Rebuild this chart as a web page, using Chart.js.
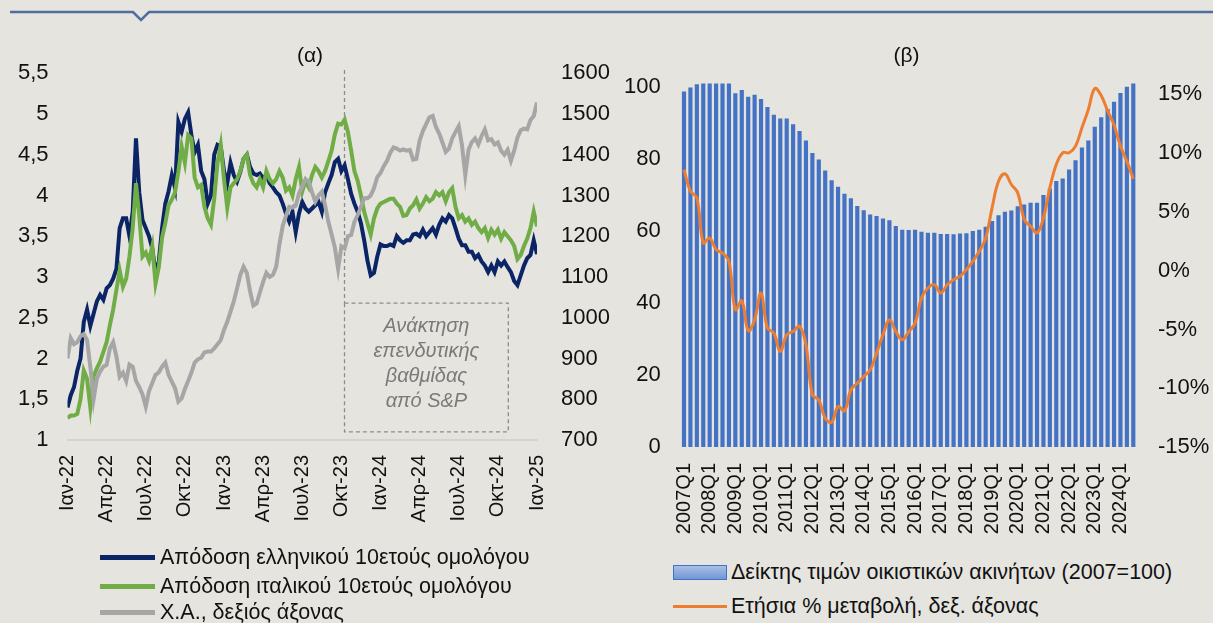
<!DOCTYPE html>
<html>
<head>
<meta charset="utf-8">
<script src="https://cdn.jsdelivr.net/npm/chart.js@4.4.1/dist/chart.umd.min.js"></script>
<style>
  body { margin: 0; background: #e5e4df; width: 1213px; height: 623px; overflow: hidden; position: relative;
         font-family: "Liberation Sans", Arial, sans-serif; }
  canvas { position: absolute; top: 0; }
  #yields { left: 0; }
  #housing { left: 600px; }
  .ornament { position: absolute; left: 0; top: 0; }
  .legend-row { position: absolute; height: 26px; display: flex; align-items: center; white-space: nowrap;
                font-size: 21.5px; color: #111; }
  .line-swatch { width: 55px; height: 5px; margin-right: 5px; }
  .bar-swatch { width: 52px; height: 13px; margin-right: 4px; border: 1px solid #4472c4;
                background: linear-gradient(to bottom, #a9bfe6, #7296d6); }
  .thin-swatch { width: 54px; height: 3px; margin-right: 4px; background: #ed7d31; }
</style>
</head>
<body>
<svg class="ornament" width="1213" height="30">
  <polyline points="10,12 133,12 141,20 149,12 1213,12" fill="none" stroke="#4e6f9e" stroke-width="2.5"/>
</svg>

<canvas id="yields" width="620" height="545"></canvas>
<canvas id="housing" width="613" height="545"></canvas>

<div class="legend-row" style="left:100px; top:544px;"><span class="line-swatch" style="background:#0a2465"></span>Απόδοση ελληνικού 10ετούς ομολόγου</div>
<div class="legend-row" style="left:100px; top:573px;"><span class="line-swatch" style="background:#70ad47"></span>Απόδοση ιταλικού 10ετούς ομολόγου</div>
<div class="legend-row" style="left:100px; top:599px;"><span class="line-swatch" style="background:#a6a6a6"></span>Χ.Α., δεξιός άξονας</div>

<div class="legend-row" style="left:673px; top:559px;"><span class="bar-swatch"></span>Δείκτης τιμών οικιστικών ακινήτων (2007=100)</div>
<div class="legend-row" style="left:673px; top:593px;"><span class="thin-swatch"></span>Ετήσια % μεταβολή, δεξ. άξονας</div>

<script>
// (α) bond yields and stock index, one reading every quarter of a month from Jan 2022
const monthTicks = ["Ιαν-22", "Απρ-22", "Ιουλ-22", "Οκτ-22", "Ιαν-23", "Απρ-23", "Ιουλ-23",
                    "Οκτ-23", "Ιαν-24", "Απρ-24", "Ιουλ-24", "Οκτ-24", "Ιαν-25"];
const readingStep = 0.25; // months

const greekYield = [
  1.40, 1.55, 1.65, 1.85, 2.00, 2.45, 2.60, 2.40, 2.55, 2.70,
  2.78, 2.72, 2.86, 2.90, 2.98, 3.10, 3.60, 3.72, 3.72, 3.50,
  3.80, 4.70, 4.04, 3.70, 3.60, 3.50, 3.35, 3.05, 3.19, 3.60,
  3.90, 4.05, 4.25, 4.09, 4.90, 4.78, 4.94, 5.02, 4.74, 4.53,
  4.62, 4.30, 4.20, 3.90, 4.00, 4.50, 4.62, 4.60, 4.30, 4.15,
  4.40, 4.25, 4.17, 4.29, 4.45, 4.50, 4.35, 4.27, 4.25, 4.27,
  4.21, 4.25, 4.15, 4.10, 4.04, 4.00, 3.90, 3.78, 3.68, 3.80,
  3.55, 3.78, 3.92, 3.84, 3.80, 3.84, 3.88, 3.92, 3.80, 4.04,
  4.15, 4.25, 4.41, 4.45, 4.30, 4.37, 4.20, 4.02, 3.90, 3.80,
  3.66, 3.45, 3.20, 3.02, 3.05, 3.25, 3.40, 3.38, 3.38, 3.40,
  3.38, 3.50, 3.45, 3.42, 3.45, 3.45, 3.52, 3.53, 3.50, 3.58,
  3.50, 3.55, 3.60, 3.52, 3.64, 3.72, 3.68, 3.76, 3.72, 3.60,
  3.47, 3.39, 3.39, 3.31, 3.31, 3.23, 3.27, 3.19, 3.14, 3.06,
  3.14, 3.06, 3.19, 3.14, 3.19, 3.12, 3.06, 2.95, 2.90, 3.02,
  3.14, 3.23, 3.27, 3.45, 3.28
];

const italianYield = [
  1.27, 1.30, 1.30, 1.32, 1.50, 1.85, 1.75, 1.40, 1.78, 1.88,
  1.96, 2.08, 2.20, 2.41, 2.60, 2.84, 3.08, 2.88, 2.98, 3.25,
  3.60, 4.15, 3.75, 3.25, 3.30, 3.20, 3.38, 2.92, 3.12, 3.48,
  3.66, 3.88, 3.95, 4.04, 4.29, 4.60, 4.40, 4.74, 4.70, 4.22,
  4.10, 4.13, 3.86, 3.72, 3.64, 3.96, 4.40, 4.62, 4.20, 3.85,
  4.10, 4.15, 4.20, 4.30, 4.45, 4.50, 4.25, 4.15, 4.10, 4.20,
  4.10, 4.30, 4.20, 4.15, 4.20, 4.30, 4.22, 4.06, 4.10, 4.00,
  4.20, 4.35, 4.05, 4.18, 4.10, 4.25, 4.35, 4.30, 4.22, 4.30,
  4.42, 4.55, 4.75, 4.88, 4.87, 4.93, 4.78, 4.55, 4.30, 4.18,
  4.00, 3.80, 3.66, 3.52, 3.72, 3.84, 3.90, 3.92, 3.94, 3.96,
  3.96, 3.90, 3.86, 3.75, 3.76, 3.84, 3.88, 3.95, 3.84, 3.90,
  3.98, 3.93, 3.96, 4.04, 4.00, 4.04, 3.93, 4.04, 4.09, 3.86,
  3.72, 3.76, 3.68, 3.72, 3.64, 3.68, 3.60, 3.55, 3.60, 3.48,
  3.58, 3.52, 3.58, 3.47, 3.55, 3.50, 3.45, 3.38, 3.22, 3.27,
  3.38, 3.47, 3.60, 3.80, 3.62
];

const athexIndex = [
  900, 950, 935, 940, 955, 960, 945, 880, 800, 850,
  868, 880, 884, 925, 940, 905, 855, 865, 845, 885,
  880, 845, 830, 812, 782, 820, 840, 860, 866, 880,
  890, 860, 843, 827, 794, 802, 825, 845, 865, 890,
  898, 902, 915, 917, 917, 925, 935, 945, 970, 990,
  1015, 1040, 1072, 1105, 1125, 1110, 1065, 1030, 1035, 1062,
  1088, 1110, 1100, 1105, 1125, 1180, 1225, 1250, 1272, 1270,
  1275, 1305, 1322, 1340, 1335, 1308, 1285, 1300, 1309, 1276,
  1236, 1205, 1172, 1120, 1175, 1170, 1200, 1203, 1235, 1252,
  1272, 1293, 1293, 1300, 1318, 1345, 1355, 1372, 1385, 1405,
  1418, 1415, 1410, 1413, 1410, 1412, 1388, 1390, 1435, 1458,
  1475, 1492, 1495, 1468, 1452, 1430, 1407, 1415, 1440, 1456,
  1470, 1423, 1350, 1412, 1431, 1440, 1425, 1446, 1462, 1435,
  1438, 1425, 1430, 1410, 1400, 1412, 1385, 1410, 1442, 1460,
  1464, 1462, 1485, 1495, 1528
];

// S&P upgrade marker (months since Jan 2022)
const upgradeMonth = 21.24;
const boxEndMonth = 33.8;
const boxLines = ["Ανάκτηση", "επενδυτικής", "βαθμίδας", "από S&P"];

// (β) house prices, quarterly from 2007Q1
const quarterLabels = [];
for (let yr = 2007; yr <= 2024; yr++) {
  for (let q = 1; q <= 4; q++) quarterLabels.push(yr + "Q" + q);
}
const housePriceIndex = [
  98.8, 99.9, 100.8, 101.0, 101.0, 101.0, 101.0, 101.0,
  98.3, 99.2, 97.3, 97.9, 96.7, 94.5, 92.3, 91.3,
  91.3, 89.7, 87.8, 85.2, 81.7, 79.9, 76.8, 74.1,
  72.3, 70.4, 69.1, 67.0, 65.8, 64.6, 64.2, 63.5,
  63.0, 61.4, 60.4, 60.3, 60.4, 59.8, 59.5, 59.5,
  59.2, 59.2, 59.1, 59.3, 59.4, 60.0, 60.4, 61.2,
  62.8, 64.4, 65.4, 65.7, 66.9, 67.4, 67.9, 67.9,
  70.0, 71.8, 73.9, 74.6, 77.1, 79.7, 83.2, 85.2,
  89.0, 91.6, 93.9, 95.9, 98.4, 100.1, 101.0
];
const annualChange = [
  8.6, 6.76, 6.2, 2.36, 2.78, 1.79, 1.5, 0.8,
  -3.32, -2.56, -5.11, -4.18, -1.9, -4.89, -5.3, -6.88,
  -5.45, -5.17, -4.74, -6.3, -10.57, -11.0, -12.56, -12.9,
  -11.56, -11.93, -10.14, -9.57, -9.0, -8.44, -7.02, -5.45,
  -4.18, -5.17, -5.88, -5.2, -4.46, -2.33, -1.48, -1.19,
  -1.9, -1.19, -0.77, -0.48, 0.09, 0.8, 1.65, 2.78,
  5.34, 7.61, 8.24, 7.33, 6.62, 4.35, 3.78, 3.21,
  4.49, 7.05, 9.03, 10.03, 10.03, 10.6, 12.16, 13.72,
  15.5, 14.9, 13.6, 12.4, 10.6, 9.3, 7.8
];
const quarters = quarterLabels.slice(0, housePriceIndex.length);

Chart.defaults.font.family = "'Liberation Sans', Arial, sans-serif";
Chart.defaults.font.size = 22;
Chart.defaults.color = "#111";

function toPoints(values) {
  return values.map((v, i) => ({ x: i * readingStep, y: v }));
}

const upgradeMarker = {
  id: "upgradeMarker",
  beforeDatasetsDraw(chart) {
    const { ctx, scales } = chart;
    const x0 = scales.x.getPixelForValue(upgradeMonth);
    const x1 = scales.x.getPixelForValue(boxEndMonth);
    const lineTop = scales.y.getPixelForValue(5.54);
    const boxTop = scales.y.getPixelForValue(2.68);
    const boxBottom = scales.y.getPixelForValue(1.1);
    ctx.save();
    ctx.strokeStyle = "#8c8c8c";
    ctx.lineWidth = 1.3;
    ctx.setLineDash([4, 3]);
    ctx.beginPath();
    ctx.moveTo(x0, lineTop);
    ctx.lineTo(x0, boxTop);
    ctx.stroke();
    ctx.strokeRect(x0, boxTop, x1 - x0, boxBottom - boxTop);
    ctx.setLineDash([]);
    ctx.fillStyle = "#7a7a7a";
    ctx.font = "italic 20px 'Liberation Sans', Arial, sans-serif";
    ctx.textAlign = "center";
    ctx.textBaseline = "middle";
    boxLines.forEach((t, i) => ctx.fillText(t, (x0 + x1) / 2, boxTop + 23 + i * 25));
    ctx.restore();
  }
};

const noGrid = { display: false, drawTicks: false };

new Chart(document.getElementById("yields"), {
  type: "line",
  data: {
    datasets: [
      { label: "Απόδοση ελληνικού 10ετούς ομολόγου", data: toPoints(greekYield),
        borderColor: "#0a2465", borderWidth: 4, pointRadius: 0, yAxisID: "y", order: 2 },
      { label: "Απόδοση ιταλικού 10ετούς ομολόγου", data: toPoints(italianYield),
        borderColor: "#70ad47", borderWidth: 4, pointRadius: 0, yAxisID: "y", order: 1 },
      { label: "Χ.Α., δεξιός άξονας", data: toPoints(athexIndex),
        borderColor: "#a6a6a6", borderWidth: 4, pointRadius: 0, yAxisID: "y1", order: 0 }
    ]
  },
  options: {
    responsive: false,
    animation: false,
    layout: { padding: 0 },
    plugins: {
      legend: { display: false },
      tooltip: { enabled: false },
      title: { display: true, text: "(α)", color: "#111", font: { size: 21, weight: "normal" },
               padding: { top: 44, bottom: 4 } }
    },
    scales: {
      x: {
        type: "linear", min: 0, max: 36,
        grid: noGrid,
        border: { display: true, color: "#d3d3d0", width: 2 },
        ticks: { stepSize: 3, autoSkip: false, minRotation: 90, maxRotation: 90, padding: 15,
                 font: { size: 20 }, callback: v => monthTicks[Math.round(v / 3)] },
        afterFit: s => { s.height = 105; }
      },
      y: {
        position: "left", min: 1, max: 5.5,
        grid: noGrid, border: { display: false },
        ticks: { stepSize: 0.5, padding: 19, callback: v => String(v).replace(".", ",") },
        afterFit: s => { s.width = 67.5; }
      },
      y1: {
        position: "right", min: 700, max: 1600,
        grid: noGrid, border: { display: false },
        ticks: { stepSize: 100, padding: 24, callback: v => String(v) },
        afterFit: s => { s.width = 83; }
      }
    }
  },
  plugins: [upgradeMarker]
});

new Chart(document.getElementById("housing"), {
  data: {
    labels: quarters,
    datasets: [
      { type: "line", label: "Ετήσια % μεταβολή, δεξ. άξονας", data: annualChange,
        borderColor: "#ed7d31", borderWidth: 3, pointRadius: 0, tension: 0.4, yAxisID: "y1", order: 0 },
      { type: "bar", label: "Δείκτης τιμών οικιστικών ακινήτων (2007=100)", data: housePriceIndex,
        backgroundColor: "#4472c4", barPercentage: 0.65, categoryPercentage: 1, yAxisID: "y", order: 1 }
    ]
  },
  options: {
    responsive: false,
    animation: false,
    layout: { padding: 0 },
    plugins: {
      legend: { display: false },
      tooltip: { enabled: false },
      title: { display: true, text: "(β)", color: "#111", font: { size: 21, weight: "normal" },
               padding: { top: 44, bottom: 10 } }
    },
    scales: {
      x: {
        type: "category", offset: true,
        grid: noGrid, border: { display: false },
        ticks: { autoSkip: false, minRotation: 90, maxRotation: 90, padding: 16, font: { size: 20 },
                 callback: (v, i) => (i % 4 === 0 ? quarters[i] : "") },
        afterFit: s => { s.height = 98; }
      },
      y: {
        position: "left", min: 0, max: 102.2,
        grid: noGrid, border: { display: false },
        ticks: { stepSize: 20, padding: 20, includeBounds: false },
        afterFit: s => { s.width = 80.8; }
      },
      y1: {
        position: "right", min: -15, max: 16.29,
        grid: noGrid, border: { display: false },
        ticks: { stepSize: 5, padding: 21.5, includeBounds: false, callback: v => v + "%" },
        afterFit: s => { s.width = 76.5; }
      }
    }
  }
});
</script>
</body>
</html>
